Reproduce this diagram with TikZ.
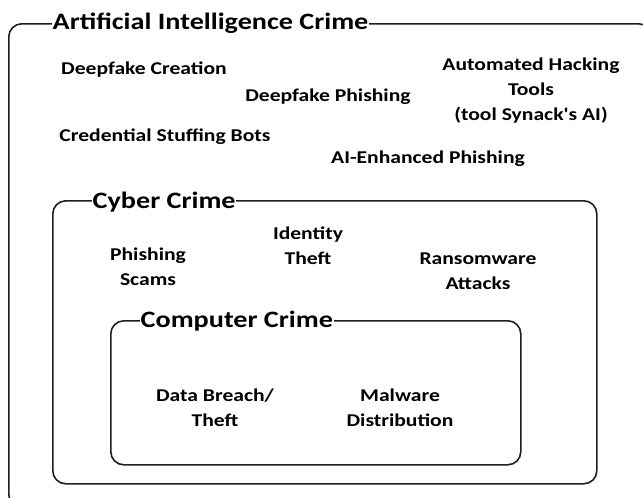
\documentclass[tikz,border=0pt]{standalone}
\usepackage{fontspec}
\setmainfont{Carlito}[FakeStretch=1.2, Ligatures=TeXOff]
\begin{document}
\begin{tikzpicture}[x=1pt,y=-1pt,
  frame/.style={draw=black!88, line width=1.6pt, rounded corners=13pt, minimum width=#1, anchor=north west},
  ttl/.style={fill=white, inner xsep=0.5pt, inner ysep=1pt, font=\fontsize{23.5}{26}\selectfont\bfseries, anchor=base west},
  item/.style={align=center, font=\fontsize{18}{25}\selectfont\bfseries, inner sep=0pt}]
\useasboundingbox (0,0) rectangle (643,498);
% frames
\node[frame=643pt, minimum height=484pt] (aibox) at (8,23) {};
\node[frame=544pt, minimum height=283pt] (cyberbox) at (52,200) {};
\node[frame=410pt, minimum height=144pt] (compbox) at (110,320) {};
% titles
\node[ttl] (aititle) at (52,29) {Artificial Intelligence Crime};
\node[ttl] (cybertitle) at (92,208) {Cyber Crime};
\node[ttl] (comptitle) at (140,327) {Computer Crime};
% AI items
\node[item] (dfc) at (144,70) {Deepfake Creation};
\node[item] (dfp) at (328,97) {Deepfake Phishing};
\node[item] (aht) at (531,91) {Automated Hacking\\Tools\\(tool Synack's AI)};
\node[item] (csb) at (165,137) {Credential Stuffing Bots};
\node[item] (aep) at (428,159) {AI-Enhanced Phishing};
% cyber items
\node[item] (phs) at (148,267) {Phishing\\Scams};
\node[item] (idt) at (308,246) {Identity\\Theft};
\node[item] (rsw) at (478,271) {Ransomware\\Attacks};
% computer items
\node[item] (dbt) at (215,408) {Data Breach/\\Theft};
\node[item] (mwd) at (400,408) {Malware\\Distribution};
\end{tikzpicture}
\end{document}
